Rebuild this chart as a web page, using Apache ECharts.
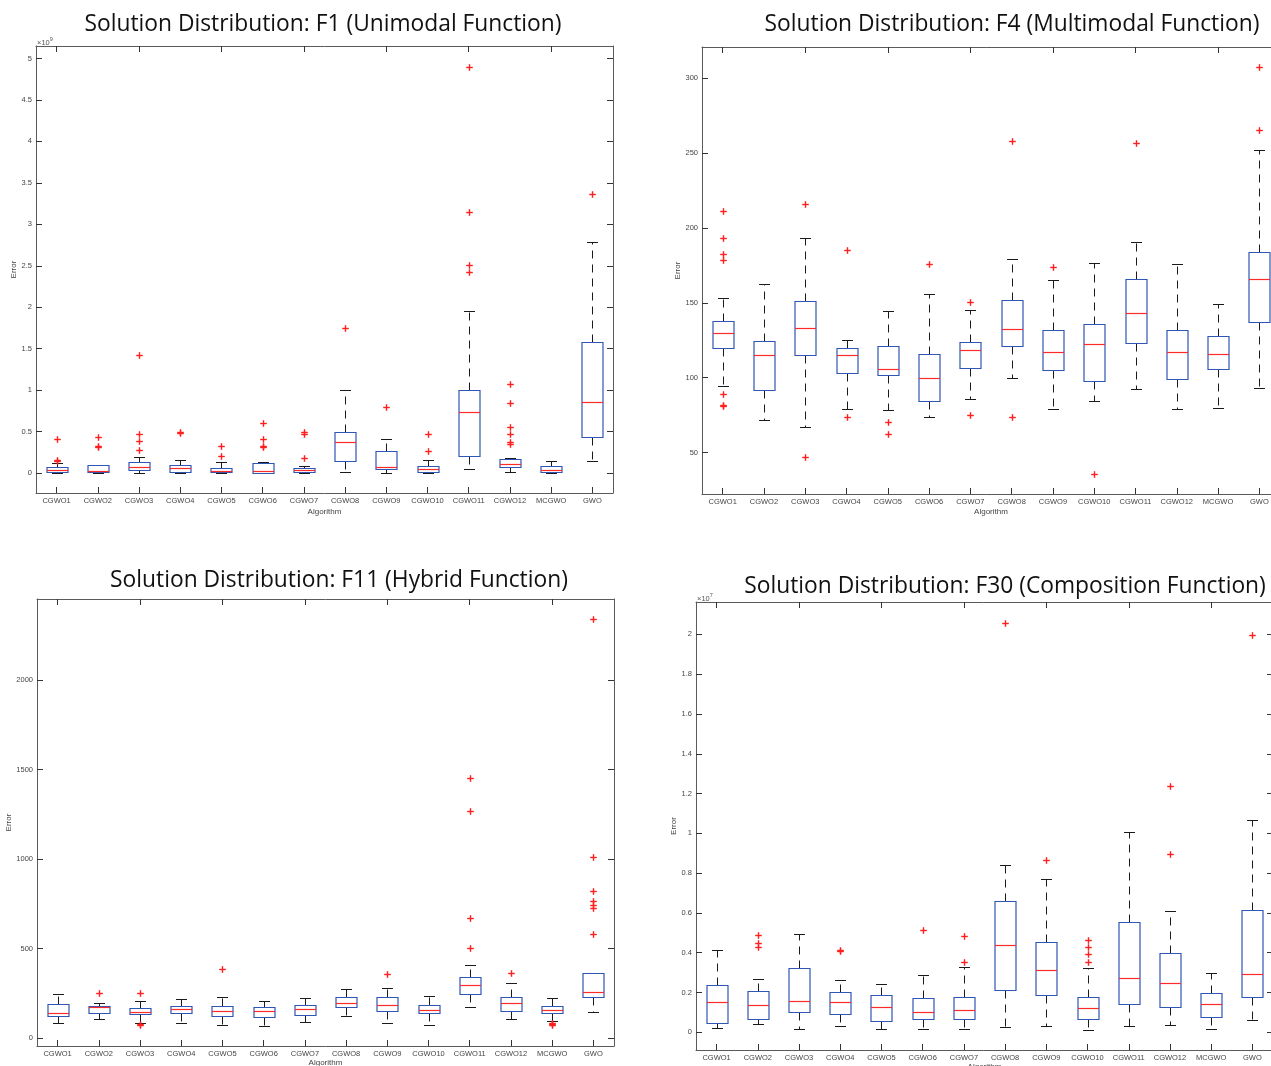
<!DOCTYPE html>
<html>
<head>
<meta charset="utf-8">
<script src="https://cdn.jsdelivr.net/npm/echarts@6/dist/echarts.min.js"></script>
<style>
html,body{margin:0;padding:0;background:#fff;}
#chart{width:1271px;height:1066px;}
</style>
</head>
<body>
<div id="chart"></div>
<script>
const categories = ['CGWO1','CGWO2','CGWO3','CGWO4','CGWO5','CGWO6','CGWO7','CGWO8','CGWO9','CGWO10','CGWO11','CGWO12','MCGWO','GWO'];

// [lowerWhisker, q1, median, q3, upperWhisker]
const f1Stats = [
  [0.0, 0.01, 0.04, 0.07, 0.12],
  [0.0, 0.01, 0.03, 0.10, 0.10],
  [0.0, 0.04, 0.07, 0.13, 0.19],
  [0.0, 0.01, 0.06, 0.10, 0.16],
  [0.0, 0.01, 0.03, 0.06, 0.13],
  [0.0, 0.0, 0.03, 0.12, 0.13],
  [0.0, 0.01, 0.04, 0.06, 0.09],
  [0.01, 0.145, 0.37, 0.50, 1.0],
  [0.0, 0.05, 0.076, 0.265, 0.41],
  [0.0, 0.01, 0.044, 0.08, 0.16],
  [0.044, 0.21, 0.74, 1.0, 1.96],
  [0.01, 0.07, 0.11, 0.175, 0.18],
  [0.0, 0.01, 0.036, 0.09, 0.14],
  [0.14, 0.44, 0.855, 1.58, 2.79]
];
const f1Outliers = [
  [0.41, 0.16, 0.14],
  [0.44, 0.33, 0.31],
  [1.42, 0.47, 0.39, 0.28],
  [0.50, 0.48],
  [0.33, 0.21],
  [0.60, 0.41, 0.33, 0.32],
  [0.49, 0.47, 0.18],
  [1.75],
  [0.80],
  [0.47, 0.27],
  [4.90, 3.15, 2.51, 2.42],
  [1.08, 0.85, 0.55, 0.47, 0.38, 0.35],
  [],
  [3.37]
];
const f1Ticks = [0, 0.5, 1, 1.5, 2, 2.5, 3, 3.5, 4, 4.5, 5];

const f4Stats = [
  [94.2, 119.6, 130, 138, 153.3],
  [71.8, 92, 114.9, 124.2, 162.7],
  [66.9, 115.3, 133.3, 151.3, 193.3],
  [78.9, 102.9, 115.3, 120, 124.9],
  [78.4, 101.6, 105.8, 120.9, 144.4],
  [73.8, 84.4, 100, 115.6, 155.8],
  [85.6, 106.4, 118.2, 123.8, 145.3],
  [100, 120.9, 132.4, 151.6, 179.1],
  [79, 104.9, 117.1, 131.6, 165.3],
  [84.4, 97.8, 122.4, 135.6, 176.7],
  [92.4, 122.9, 143.3, 165.8, 190.7],
  [78.9, 98.9, 117.3, 132, 176.2],
  [80, 106, 115.8, 127.8, 149.1],
  [92.9, 136.9, 165.6, 183.8, 251.8]
];
const f4Outliers = [
  [211.1, 193.3, 182.7, 178.4, 89.3, 82, 80.9],
  [],
  [215.6, 47.1],
  [184.9, 73.8],
  [70.2, 62.7],
  [175.8],
  [150.7, 75.3],
  [257.8, 74],
  [173.8],
  [36],
  [256.7],
  [],
  [],
  [307.1, 265.6]
];
const f4Ticks = [50, 100, 150, 200, 250, 300];

const f11Stats = [
  [85.6, 126.5, 141.4, 193.5, 249.3],
  [109.8, 139.5, 174.9, 182.3, 199],
  [83.7, 135.8, 145.1, 171.2, 210.2],
  [85.6, 141.4, 163.7, 182.3, 221.4],
  [74.4, 124.7, 150.7, 178.6, 232.6],
  [70.7, 117.2, 150.7, 176.7, 206.5],
  [91.2, 128.4, 161.9, 186, 227],
  [122.8, 173, 197.2, 232.6, 277.2],
  [87.4, 150.7, 187.9, 232.6, 282.8],
  [72.6, 139.5, 156.3, 187.9, 234.4],
  [176.7, 245.6, 297.7, 344.2, 411.2],
  [107.9, 150.7, 195.3, 228.8, 307],
  [98.6, 141.4, 160, 178.6, 227],
  [145.1, 232.6, 260.5, 362.8, 364]
];
const f11Outliers = [
  [],
  [251.2],
  [251.2, 80, 74.4],
  [],
  [388.8],
  [],
  [],
  [],
  [357.2],
  [],
  [1454.9, 1268.8, 671.6, 504.2],
  [364.7],
  [87.4, 78.1, 74.4],
  [2338.6, 1012, 824.2, 768.4, 744.2, 725.6, 582.3]
];
const f11Ticks = [0, 500, 1000, 1500, 2000];

const f30Stats = [
  [0.023, 0.049, 0.151, 0.236, 0.416],
  [0.040, 0.067, 0.137, 0.210, 0.267],
  [0.017, 0.101, 0.158, 0.325, 0.496],
  [0.034, 0.094, 0.153, 0.201, 0.262],
  [0.018, 0.057, 0.126, 0.186, 0.245],
  [0.018, 0.065, 0.104, 0.174, 0.288],
  [0.018, 0.067, 0.112, 0.179, 0.329],
  [0.027, 0.213, 0.438, 0.662, 0.842],
  [0.032, 0.186, 0.313, 0.453, 0.773],
  [0.013, 0.065, 0.122, 0.179, 0.322],
  [0.030, 0.142, 0.273, 0.552, 1.008],
  [0.035, 0.129, 0.248, 0.399, 0.609],
  [0.017, 0.079, 0.141, 0.196, 0.300],
  [0.062, 0.178, 0.292, 0.614, 1.066]
];
const f30Outliers = [
  [],
  [0.490, 0.451, 0.427],
  [],
  [0.416, 0.409],
  [],
  [0.516],
  [0.484, 0.354],
  [2.059],
  [0.865],
  [0.463, 0.429, 0.394, 0.355],
  [],
  [1.236, 0.895],
  [],
  [1.997]
];
const f30Ticks = [0, 0.2, 0.4, 0.6, 0.8, 1, 1.2, 1.4, 1.6, 1.8, 2];

const titles = [
  'Solution Distribution: F1 (Unimodal Function)',
  'Solution Distribution: F4 (Multimodal Function)',
  'Solution Distribution: F11 (Hybrid Function)',
  'Solution Distribution: F30 (Composition Function)'
];

const panels = [
  {stats: f1Stats, outliers: f1Outliers, ticks: f1Ticks, min: -0.24, max: 5.15, exp: '9',
   grid: {left: 36, top: 46, right: 658, bottom: 573}, title: {x: 323, y: 13}, yGap: 16, xGap: 15},
  {stats: f4Stats, outliers: f4Outliers, ticks: f4Ticks, min: 22.4, max: 320.7, exp: null,
   grid: {left: 702, top: 47, right: -9, bottom: 572}, title: {x: 1012, y: 13}, yGap: 18, xGap: 14},
  {stats: f11Stats, outliers: f11Outliers, ticks: f11Ticks, min: -43, max: 2452, exp: null,
   grid: {left: 37, top: 599, right: 657, bottom: 20}, title: {x: 339, y: 569}, yGap: 21, xGap: 13},
  {stats: f30Stats, outliers: f30Outliers, ticks: f30Ticks, min: -0.089, max: 2.163, exp: '7',
   grid: {left: 696, top: 602, right: -2, bottom: 16}, title: {x: 1005, y: 575}, yGap: 16, xGap: 13}
];

const AXIS_COLOR = '#5a5a5a';
const LABEL_COLOR = '#444';
const BOX_COLOR = '#2f56b5';
const MED_COLOR = '#ff2a2a';
const WHISK_COLOR = '#1a1a1a';
const OUT_COLOR = '#ff1f1f';
const FONT = 'Liberation Sans, Arial, sans-serif';

const option = {
  animation: false,
  backgroundColor: '#fff',
  title: [],
  grid: [],
  xAxis: [],
  yAxis: [],
  series: []
};

panels.forEach((p, gi) => {
  option.title.push({
    text: titles[gi], left: p.title.x, top: p.title.y, textAlign: 'center', padding: 0,
    textStyle: {fontFamily: 'Open Sans', fontSize: 22.8, fontWeight: 'normal', color: '#111'}
  });
  option.grid.push(Object.assign({show: false, containLabel: false, outerBoundsMode: 'none'}, p.grid));
  const xBase = {
    type: 'category', data: categories, gridIndex: gi, boundaryGap: true,
    axisLine: {show: true, onZero: false, lineStyle: {color: AXIS_COLOR, width: 1}},
    axisTick: {show: true, inside: true, alignWithLabel: true, length: 6, lineStyle: {color: '#333'}},
    splitLine: {show: false}
  };
  option.xAxis.push(Object.assign({}, xBase, {
    position: 'bottom',
    name: 'Algorithm', nameLocation: 'middle', nameGap: p.xGap,
    nameTextStyle: {fontFamily: FONT, fontSize: 8, color: LABEL_COLOR},
    axisLabel: {show: true, interval: 0, fontFamily: FONT, fontSize: 7.5, color: LABEL_COLOR, margin: 4}
  }));
  option.xAxis.push(Object.assign({}, xBase, {position: 'top', axisLabel: {show: false}}));
  const yBase = {
    type: 'value', gridIndex: gi, min: p.min, max: p.max, scale: true,
    axisLine: {show: true, onZero: false, lineStyle: {color: AXIS_COLOR, width: 1}},
    axisTick: {show: true, inside: true, length: 6, customValues: p.ticks, lineStyle: {color: '#333'}},
    splitLine: {show: false}
  };
  const yLeft = Object.assign({}, yBase, {
    position: 'left',
    name: 'Error', nameLocation: 'middle', nameGap: p.yGap, nameRotate: 90,
    nameTextStyle: {fontFamily: FONT, fontSize: 8, color: LABEL_COLOR},
    axisLabel: {show: true, customValues: p.ticks, fontFamily: FONT, fontSize: 7.5, color: LABEL_COLOR, margin: 4,
      formatter: v => String(v)}
  });
  option.yAxis.push(yLeft);
  option.yAxis.push(Object.assign({}, yBase, {position: 'right', axisLabel: {show: false}}));

  const xIdx = gi * 2, yIdx = gi * 2;

  option.series.push({
    type: 'custom', xAxisIndex: xIdx, yAxisIndex: yIdx,
    data: p.stats.map((s, i) => [i].concat(s)),
    encode: {x: 0, y: [1, 2, 3, 4, 5]},
    clip: false,
    renderItem: function (params, api) {
      const ci = api.value(0);
      const lo = api.coord([ci, api.value(1)]);
      const q1 = api.coord([ci, api.value(2)]);
      const md = api.coord([ci, api.value(3)]);
      const q3 = api.coord([ci, api.value(4)]);
      const hi = api.coord([ci, api.value(5)]);
      const band = api.size([1, 0])[0];
      const bw = Math.round(band * 0.52);
      const cw = Math.round(bw * 0.5);
      const cx = Math.round(lo[0]) + 0.5;
      const r = v => Math.round(v) + 0.5;
      const children = [];
      if (hi[1] < q3[1] - 0.5) {
        children.push({type: 'line', shape: {x1: cx, y1: r(q3[1]), x2: cx, y2: r(hi[1])},
          style: {stroke: WHISK_COLOR, lineWidth: 1, lineDash: [8, 6]}});
      }
      if (lo[1] > q1[1] + 0.5) {
        children.push({type: 'line', shape: {x1: cx, y1: r(q1[1]), x2: cx, y2: r(lo[1])},
          style: {stroke: WHISK_COLOR, lineWidth: 1, lineDash: [8, 6]}});
      }
      children.push({type: 'line', shape: {x1: cx - cw / 2, y1: r(hi[1]), x2: cx + cw / 2, y2: r(hi[1])},
        style: {stroke: WHISK_COLOR, lineWidth: 1}});
      children.push({type: 'line', shape: {x1: cx - cw / 2, y1: r(lo[1]), x2: cx + cw / 2, y2: r(lo[1])},
        style: {stroke: WHISK_COLOR, lineWidth: 1}});
      children.push({type: 'rect', shape: {x: cx - bw / 2, y: r(q3[1]), width: bw, height: Math.max(1, r(q1[1]) - r(q3[1]))},
        style: {stroke: BOX_COLOR, fill: 'none', lineWidth: 1.2}});
      children.push({type: 'line', shape: {x1: cx - bw / 2, y1: r(md[1]), x2: cx + bw / 2, y2: r(md[1])},
        style: {stroke: MED_COLOR, lineWidth: 1.2}});
      return {type: 'group', children: children};
    }
  });

  const outData = [];
  p.outliers.forEach((arr, i) => arr.forEach(v => outData.push([i, v])));
  option.series.push({
    type: 'custom', xAxisIndex: xIdx, yAxisIndex: yIdx,
    data: outData, encode: {x: 0, y: 1}, clip: false,
    renderItem: function (params, api) {
      const pt = api.coord([api.value(0), api.value(1)]);
      const s = 3.3;
      const x = Math.round(pt[0]) + 0.5, y = Math.round(pt[1]) + 0.5;
      return {type: 'group', children: [
        {type: 'line', shape: {x1: x - s, y1: y, x2: x + s, y2: y}, style: {stroke: OUT_COLOR, lineWidth: 1.4}},
        {type: 'line', shape: {x1: x, y1: y - s, x2: x, y2: y + s}, style: {stroke: OUT_COLOR, lineWidth: 1.4}}
      ]};
    }
  });
});

const graphics = [];
panels.forEach((p, gi) => {
  if (p.exp) {
    graphics.push({
      type: 'text', left: p.grid.left + 1, top: p.grid.top - 10,
      style: {text: '{a|×10}{b|' + p.exp + '}', font: '7.5px ' + FONT, fill: '#555',
        rich: {a: {fontSize: 7.5, fontFamily: FONT, fill: '#555', padding: [3, 0, 0, 0]},
               b: {fontSize: 5.5, fontFamily: FONT, fill: '#555', verticalAlign: 'top'}}}
    });
  }
});
option.graphic = graphics;

const chart = echarts.init(document.getElementById('chart'), null, {renderer: 'canvas'});
chart.setOption(option);
</script>
</body>
</html>
